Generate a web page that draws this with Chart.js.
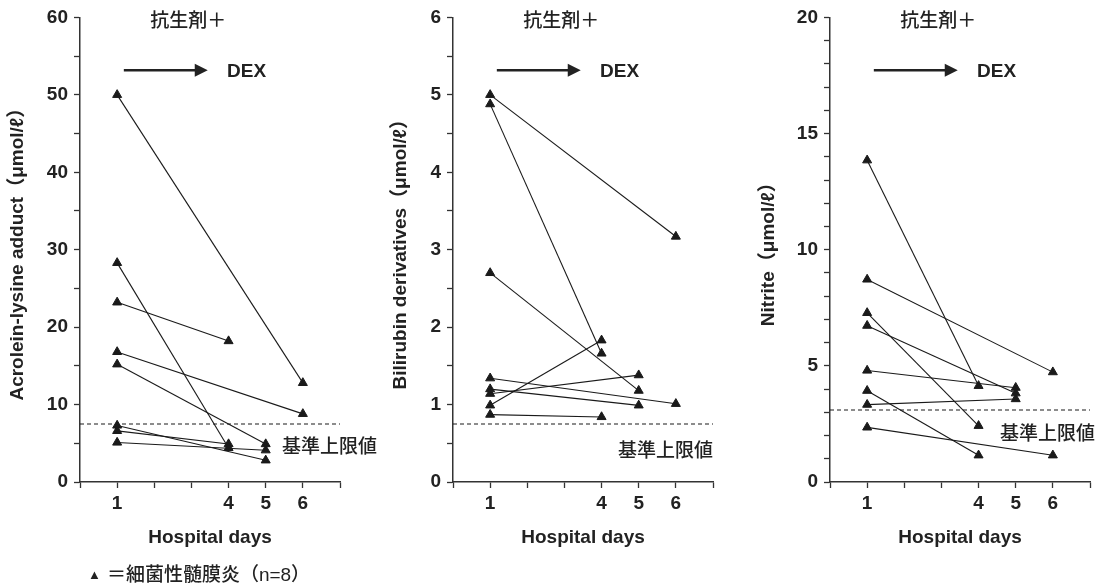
<!DOCTYPE html>
<html>
<head>
<meta charset="utf-8">
<script src="https://cdn.jsdelivr.net/npm/chart.js@4.4.1/dist/chart.umd.min.js"></script>
<style>
    html, body { margin: 0; padding: 0; background: #fff; }
    #wrap { position: relative; width: 1113px; height: 586px; }
    #wrap canvas { position: absolute; left: 0; top: 0; }
    #note { position: absolute; left: 88px; top: 559px; color: #222;
            font: 500 19px "Liberation Sans", "Noto Sans CJK JP"; white-space: nowrap; }
    #note .tri { font-size: 13px; position: relative; top: -2px; margin-right: 6px; }
</style>
</head>
<body>
<div id="wrap">
    <canvas id="acrolein" width="1113" height="586"></canvas>
    <canvas id="bilirubin" width="1113" height="586"></canvas>
    <canvas id="nitrite" width="1113" height="586"></canvas>
    <div id="note"><span class="tri">▲</span>＝細菌性髄膜炎（n=8）</div>
</div>
<script>
// hospital days shown on the x axis
const dayLabels = [1, 4, 5, 6];

// Acrolein-lysine adduct: value on day 1, day of the 2nd sample, value then
const acroleinDay1 = [50, 28.3, 23.2, 16.8, 15.2, 7.3, 6.6, 5.1];
const acroleinLastDay = [6, 4, 4, 6, 5, 5, 4, 5];
const acroleinLast = [12.8, 4.4, 18.2, 8.8, 4.9, 2.8, 4.9, 4.1];
const acroleinTicks = [0, 10, 20, 30, 40, 50, 60];

// Bilirubin derivatives
const bilirubinDay1 = [5.0, 4.88, 2.7, 1.34, 1.2, 1.14, 0.99, 0.87];
const bilirubinLastDay = [6, 4, 5, 6, 5, 5, 4, 4];
const bilirubinLast = [3.17, 1.66, 1.18, 1.01, 0.99, 1.38, 1.83, 0.84];
const bilirubinTicks = [0, 1, 2, 3, 4, 5, 6];

// Nitrite
const nitriteDay1 = [13.85, 8.72, 7.28, 6.73, 4.8, 3.93, 3.33, 2.35];
const nitriteLastDay = [4, 6, 4, 5, 5, 4, 5, 6];
const nitriteLast = [4.14, 4.73, 2.42, 3.82, 4.06, 1.15, 3.57, 1.15];
const nitriteTicks = [0, 5, 10, 15, 20];

// upper reference limits (dashed lines)
const upperLimits = [7.5, 0.75, 3.1];

const INK = '#222';
const LATIN = '"Liberation Sans", "Noto Sans CJK JP"';
const CJK = '"Noto Sans CJK JP"';

// text and arrow that sit on top of every panel
const notesPlugin = {
    id: 'notes',
    afterDatasetsDraw(chart, args, opts) {
        const { ctx, chartArea, scales: { x, y } } = chart;
        ctx.save();
        ctx.fillStyle = INK;
        ctx.strokeStyle = INK;
        ctx.textBaseline = 'middle';

        ctx.font = '500 19px ' + CJK;
        ctx.fillText('抗生剤＋', x.getPixelForValue(1.89), chartArea.top + 2);

        // arrow
        const ay = chartArea.top + chartArea.height * 0.114;
        const x0 = x.getPixelForValue(1.18);
        const x1 = x.getPixelForValue(3.44);
        ctx.lineWidth = 2.5;
        ctx.beginPath();
        ctx.moveTo(x0, ay);
        ctx.lineTo(x1 - 10, ay);
        ctx.stroke();
        ctx.beginPath();
        ctx.moveTo(x1, ay);
        ctx.lineTo(x1 - 13, ay - 6.5);
        ctx.lineTo(x1 - 13, ay + 6.5);
        ctx.closePath();
        ctx.fill();

        ctx.font = 'bold 19px ' + LATIN;
        ctx.fillText('DEX', x.getPixelForValue(3.96), ay + 1);

        ctx.font = '500 19px ' + CJK;
        ctx.fillText('基準上限値', x.getPixelForValue(opts.limitX), y.getPixelForValue(opts.limitY));
        ctx.restore();
    }
};

function makePanel(id, day1, lastDay, last, limit, yTicks, minorStep, yTitle, pad, titlePad, notes) {
    const datasets = day1.map((v, i) => ({
        data: [{ x: 1, y: v }, { x: lastDay[i], y: last[i] }],
        borderColor: '#1a1a1a',
        borderWidth: 1.1,
        pointStyle: 'triangle',
        pointRadius: 5.2,
        pointBackgroundColor: '#1a1a1a',
        pointBorderColor: '#1a1a1a',
        pointBorderWidth: 1
    }));

    // dashed upper limit line across the whole x range
    datasets.unshift({
        data: [{ x: 0, y: limit }, { x: 7, y: limit }],
        borderColor: '#1a1a1a',
        borderWidth: 1.1,
        borderDash: [4, 3],
        pointRadius: 0
    });

    const yMax = yTicks[yTicks.length - 1];

    return new Chart(document.getElementById(id), {
        type: 'line',
        data: { datasets },
        options: {
            responsive: false,
            animation: false,
            layout: { padding: pad },
            plugins: {
                legend: { display: false },
                tooltip: { enabled: false },
                notes: notes
            },
            scales: {
                x: {
                    type: 'linear',
                    min: 0,
                    max: 7,
                    afterFit: s => { s.height = 70; },
                    ticks: {
                        stepSize: 1,
                        autoSkip: false,
                        maxRotation: 0,
                        padding: 4,
                        color: INK,
                        font: { family: LATIN, size: 19, weight: 'bold' },
                        callback: v => dayLabels.includes(v) ? String(v) : ''
                    },
                    grid: { drawOnChartArea: false, tickLength: 6, color: '#333', tickWidth: 1.3 },
                    border: { color: '#333', width: 1.5 },
                    title: {
                        display: true,
                        text: 'Hospital days',
                        color: INK,
                        font: { family: LATIN, size: 19, weight: 'bold' },
                        padding: { top: 0, bottom: 3 }
                    }
                },
                y: {
                    min: 0,
                    max: yMax,
                    afterFit: s => { s.width = 80; },
                    ticks: {
                        stepSize: minorStep,
                        autoSkip: false,
                        padding: 6,
                        color: INK,
                        font: { family: LATIN, size: 19, weight: 'bold' },
                        callback: v => yTicks.some(t => Math.abs(t - v) < 1e-6) ? String(v) : ''
                    },
                    grid: { drawOnChartArea: false, tickLength: 6, color: '#333', tickWidth: 1.3 },
                    border: { color: '#333', width: 1.5 },
                    title: {
                        display: true,
                        text: yTitle,
                        color: INK,
                        font: { family: LATIN, size: 19, weight: 'bold' },
                        padding: { top: titlePad, bottom: 0 }
                    }
                }
            }
        },
        plugins: [notesPlugin]
    });
}

makePanel('acrolein', acroleinDay1, acroleinLastDay, acroleinLast, upperLimits[0],
    acroleinTicks, 5, 'Acrolein-lysine adduct（μmol/ℓ）',
    { left: 0, right: 773, top: 15, bottom: 34 }, 6, { limitX: 5.44, limitY: 4.7 });

makePanel('bilirubin', bilirubinDay1, bilirubinLastDay, bilirubinLast, upperLimits[1],
    bilirubinTicks, 0.5, 'Bilirubin derivatives（μmol/ℓ）',
    { left: 373, right: 400, top: 15, bottom: 34 }, 16, { limitX: 4.44, limitY: 0.42 });

makePanel('nitrite', nitriteDay1, nitriteLastDay, nitriteLast, upperLimits[2],
    nitriteTicks, 1, 'Nitrite（μmol/ℓ）',
    { left: 750, right: 23, top: 15, bottom: 34 }, 7, { limitX: 4.58, limitY: 2.13 });
</script>
</body>
</html>
